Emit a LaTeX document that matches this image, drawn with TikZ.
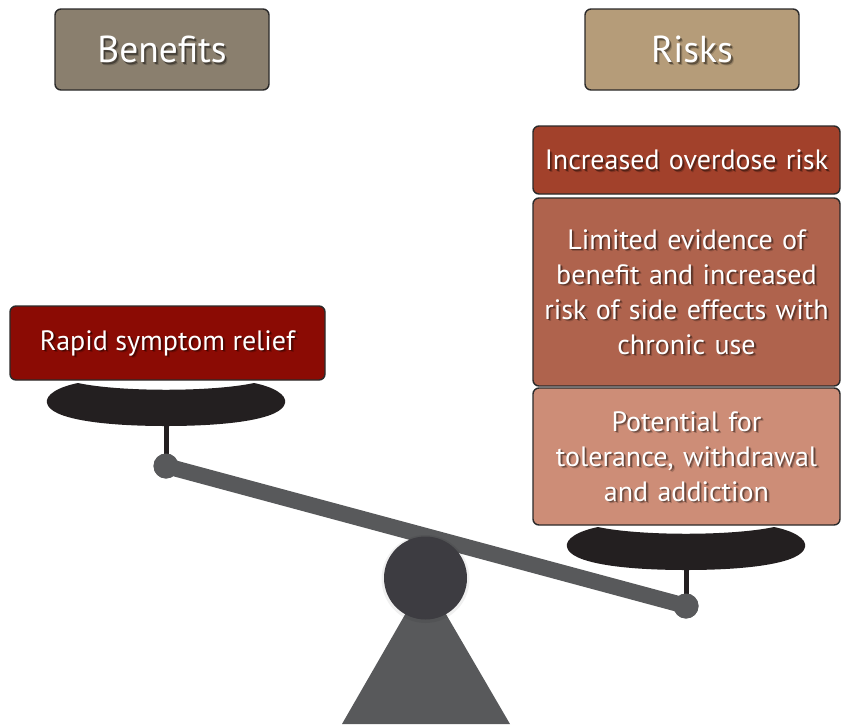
\documentclass[tikz,border=0pt]{standalone}
\usepackage{fontspec}
\setmainfont{PT Sans}
\definecolor{benefitc}{HTML}{8A7F6E}
\definecolor{riskc}{HTML}{B59C79}
\definecolor{rapidc}{HTML}{8B0B04}
\definecolor{overdosec}{HTML}{A2412B}
\definecolor{limitedc}{HTML}{AF634D}
\definecolor{tolerc}{HTML}{CD8D77}
\definecolor{panc}{HTML}{231F20}
\definecolor{beamc}{HTML}{58595B}
\definecolor{pivotc}{HTML}{3D3C41}
\definecolor{edgec}{HTML}{2B2A2A}
\newcommand{\headsize}{\fontsize{37.5}{40}\selectfont}
\newcommand{\cardsize}{\fontsize{28}{35}\selectfont}
\tikzset{
  card/.style={draw=edgec, line width=1.4pt, rounded corners=6pt, rectangle,
    text=white, align=center, inner sep=4pt},
  % soft dark copy of the label, laid under the white text
  shade text/.style 2 args={path picture={
    \node[text=black, opacity=0.38, align=center, font=#1, inner sep=0pt]
      at ([xshift=1.6pt, yshift=-1.6pt]path picture bounding box.center) {#2};
    \node[text=black, opacity=0.18, align=center, font=#1, inner sep=0pt]
      at ([xshift=2.6pt, yshift=-2.6pt]path picture bounding box.center) {#2};
  }},
  headcard/.style={card, minimum width=214pt, minimum height=81pt, font=\headsize,
    shade text={\headsize}{#1}},
  riskcard/.style={card, minimum width=307pt, text width=298pt, font=\cardsize,
    shade text={\cardsize}{#1}},
  ball/.style={circle, fill=beamc, inner sep=0pt, minimum size=25pt},
  pan/.pic={
    \fill[panc] (-88,0) .. controls (-46,9) and (46,9) .. (88,0)
      .. controls (108,4) and (121,12) .. (119,20)
      .. controls (116,36) and (64,43) .. (0,43)
      .. controls (-64,43) and (-116,36) .. (-119,20)
      .. controls (-121,12) and (-108,4) .. (-88,0) -- cycle;
  }
}
\begin{document}
\begin{tikzpicture}[x=1pt, y=-1pt]
\useasboundingbox (0,0) rectangle (841,724);

% stand: triangle base under the round pivot
\coordinate (apex) at (425.5,579);
\coordinate (baseL) at (342,724);
\coordinate (baseR) at (510,724);
\fill[beamc] (apex) -- (baseL) -- (baseR) -- cycle;

% beam with its two end balls
\node[ball] (lball) at (166,466) {};
\node[ball] (rball) at (686,606) {};
\draw[beamc, line width=16pt] (lball.center) -- (rball.center);

% pan stems
\coordinate (lpanbot) at (166,425);
\coordinate (rpanbot) at (686,569);
\draw[panc, line width=5pt] (lpanbot) -- (lball.center);
\draw[panc, line width=5pt] (rpanbot) -- (rball.center);
\node[ball] at (lball.center) {};
\node[ball] at (rball.center) {};

% pivot with a faint halo
\fill[black, opacity=0.06] (425.5,579) circle (44pt);
\node[circle, fill=pivotc, inner sep=0pt, minimum size=83pt] (pivot) at (425.5,578) {};

% pans
\pic at (166,383) {pan};
\pic at (686,527) {pan};

% column headings
\node[headcard={Benefits}, fill=benefitc] (benefits) at (162,49.5) {Benefits};
\node[headcard={Risks}, fill=riskc] (risks) at (692,49.5) {Risks};

% left pan load
\node[card, fill=rapidc, minimum width=315pt, minimum height=74pt, font=\cardsize,
  shade text={\cardsize}{Rapid symptom relief}] (rapid) at (167.5,343) {Rapid symptom relief};

% right pan load
\node[riskcard={Increased overdose risk}, fill=overdosec, minimum height=68pt]
  (overdose) at (686.5,160) {Increased overdose risk};
\node[riskcard={Limited evidence of\\benefit and increased\\risk of side effects with\\chronic use},
  fill=limitedc, minimum height=188pt]
  (limited) at (686.5,292) {Limited evidence of\\benefit and increased\\risk of side effects with\\chronic use};
\node[riskcard={Potential for\\tolerance, withdrawal\\and addiction}, fill=tolerc, minimum height=137pt]
  (tolerance) at (686.5,456.5) {Potential for\\tolerance, withdrawal\\and addiction};
\end{tikzpicture}
\end{document}
